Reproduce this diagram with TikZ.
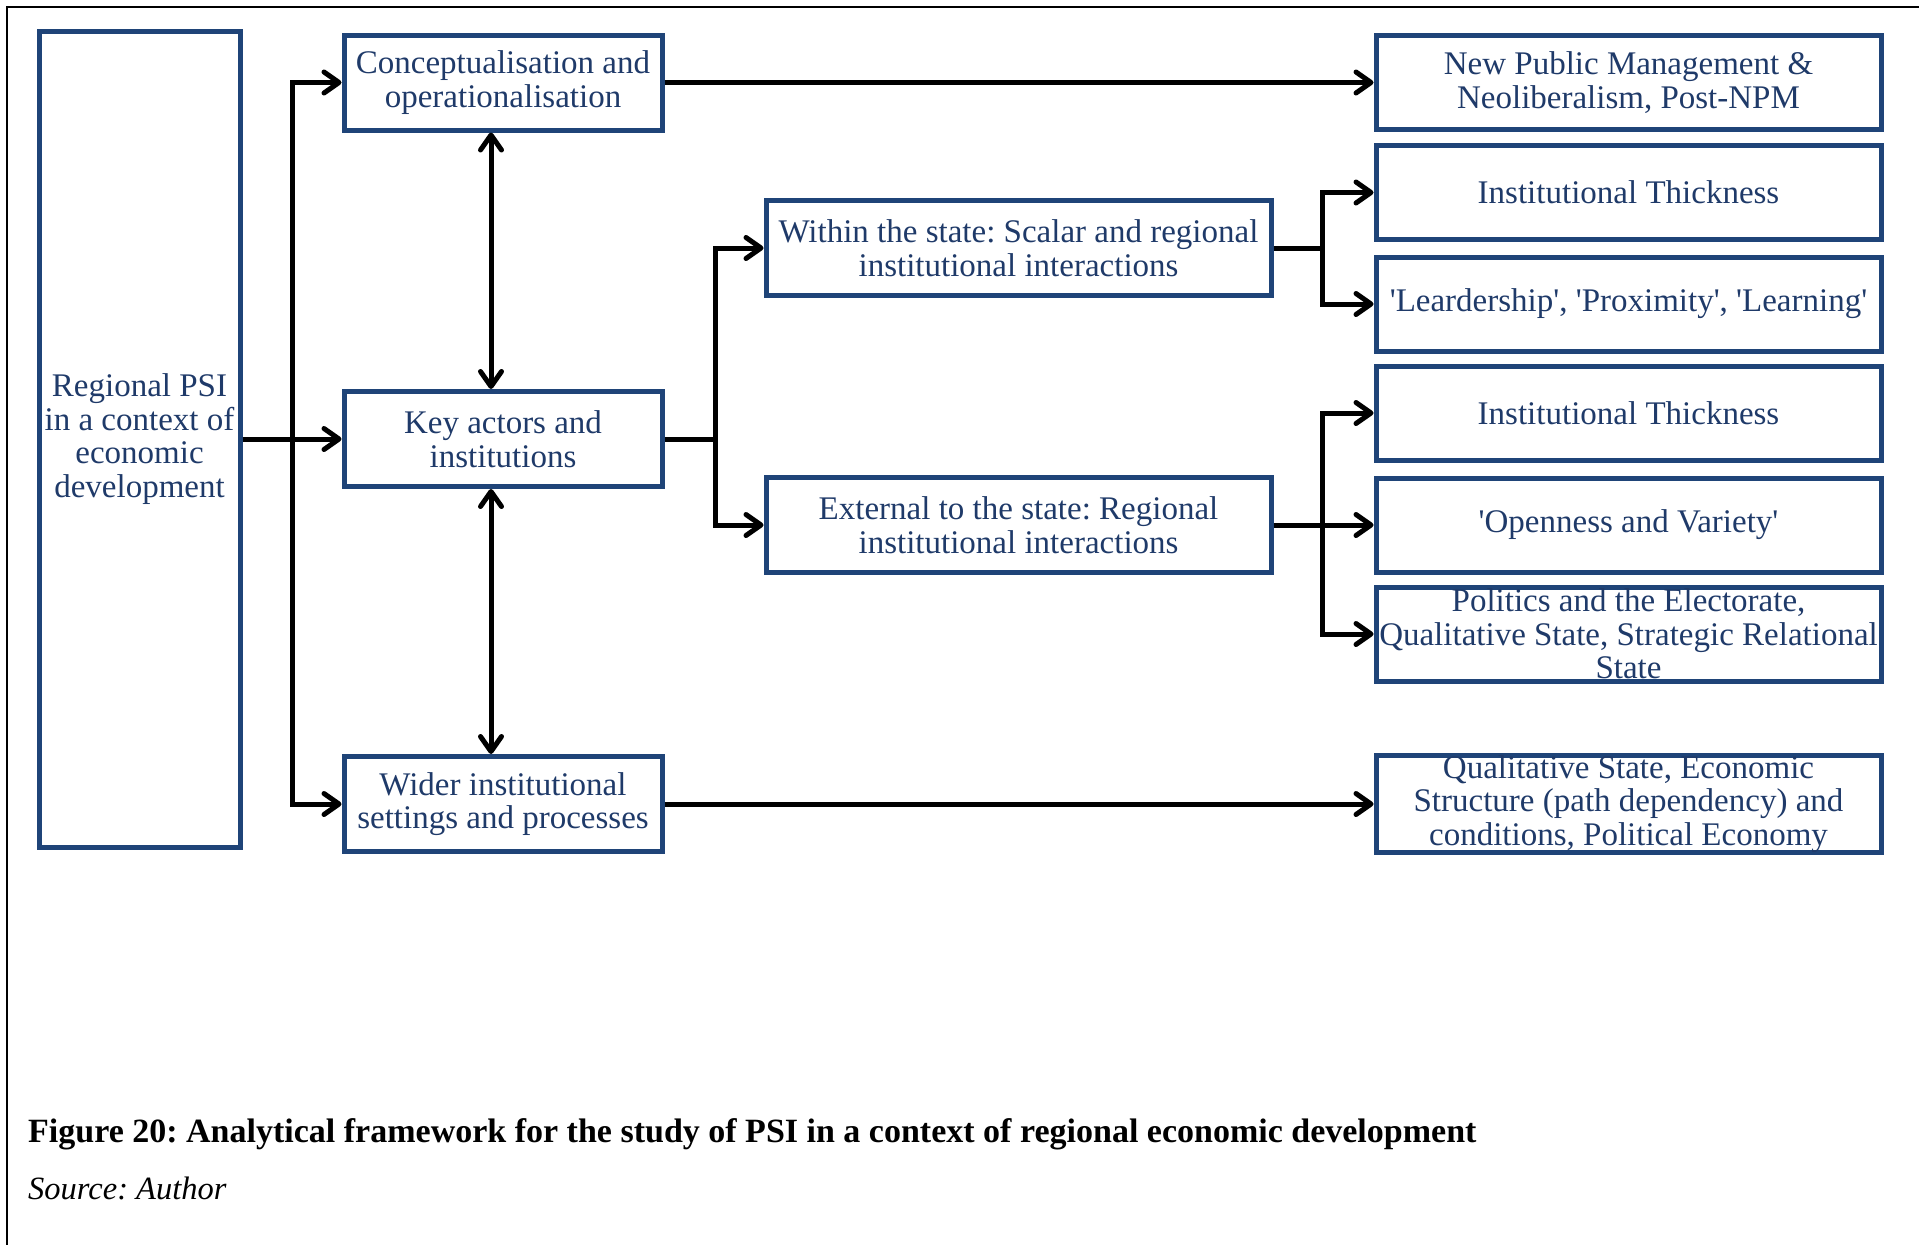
\documentclass[tikz,border=0pt]{standalone}
\usepackage{fontspec}
\setmainfont{Liberation Serif}
\usetikzlibrary{arrows.meta,calc}
\definecolor{bordblue}{RGB}{31,68,120}
\definecolor{txtblue}{RGB}{31,58,105}
\newcommand{\sqt}{\textquotesingle}
\frenchspacing
\begin{document}
\begin{tikzpicture}[x=1pt,y=-1pt,
  box/.style={draw=bordblue, line width=5pt, inner sep=0pt, text=txtblue, align=center,
    font=\fontsize{33}{33.6}\selectfont, minimum width=318pt, minimum height=95pt},
  midbox/.style={box, minimum width=505pt},
  rbox/.style={box, minimum width=505pt, minimum height=94pt},
  conn/.style={line width=5pt, draw=black},
  tip/.tip={Straight Barb[length=15pt,width=21pt,line cap=round,line join=round]},
  arr/.style={conn, -tip},
  darr/.style={conn, tip-tip}]
\useasboundingbox (0,0) rectangle (1919,1245);
\draw[line width=2pt] (1919,7) -- (7,7) -- (7,1245);

% left column
\node[box, minimum width=201pt, minimum height=816pt] (psi) at (139.5,439) {Regional PSI\\in a context of\\economic\\development};
% middle-left column
\node[box] (concept) at (503,82.5) {Conceptualisation and\\operationalisation};
\node[box] (key) at (503,439) {Key actors and\\institutions};
\node[box] (wider) at (503,804) {Wider institutional\\settings and processes};
% middle column
\node[midbox] (within) at (1018.5,248) {Within the state: Scalar and regional\\institutional interactions};
\node[midbox] (external) at (1018.5,525) {External to the state: Regional\\institutional interactions};
% right column
\node[rbox] (npm) at (1628.5,82.5) {New Public Management \&\\Neoliberalism, Post-NPM};
\node[rbox] (it1) at (1628.5,192.5) {Institutional Thickness};
\node[rbox] (lead) at (1628.5,304) {\sqt Leardership\sqt, \sqt Proximity\sqt, \sqt Learning\sqt};
\node[rbox] (it2) at (1628.5,413) {Institutional Thickness};
\node[rbox] (open) at (1628.5,525) {\sqt Openness and Variety\sqt};
\node[rbox] (pol) at (1628.5,634) {Politics and the Electorate,\\Qualitative State, Strategic Relational\\State};
\node[rbox] (qual) at (1628.5,804) {Qualitative State, Economic\\Structure (path dependency) and\\conditions, Political Economy};

% trunk coordinates
\coordinate (tL) at (292,439);
\coordinate (tK) at (715,439);
\coordinate (tW) at (1322,248);
\coordinate (tE) at (1322,525);

% connectors
\draw[arr] (psi.east) -- (key.west);
\draw[arr] (tL) |- (concept.west);
\draw[arr] (tL) |- (wider.west);
\draw[arr] (concept.east) -- (npm.west);
\draw[arr] (wider.east) -- (qual.west);
\draw[darr] ([xshift=-12pt]concept.south) -- ([xshift=-12pt]key.north);
\draw[darr] ([xshift=-12pt]key.south) -- ([xshift=-12pt]wider.north);
\draw[conn] (key.east) -- (tK);
\draw[arr] (tK) |- (within.west);
\draw[arr] (tK) |- (external.west);
\draw[conn] (within.east) -- (tW);
\draw[arr] (tW) |- (it1.west);
\draw[arr] (tW) |- (lead.west);
\draw[arr] (external.east) -- (open.west);
\draw[arr] (tE) |- (it2.west);
\draw[arr] (tE) |- (pol.west);

% caption
\node[anchor=west, inner sep=0pt, font=\bfseries\fontsize{34}{40}\selectfont] (cap) at (28,1134) {Figure 20: Analytical framework for the study of PSI in a context of regional economic development};
\node[anchor=west, inner sep=0pt, font=\itshape\fontsize{32.5}{38}\selectfont] (src) at (28,1188) {Source: Author};
\end{tikzpicture}
\end{document}
